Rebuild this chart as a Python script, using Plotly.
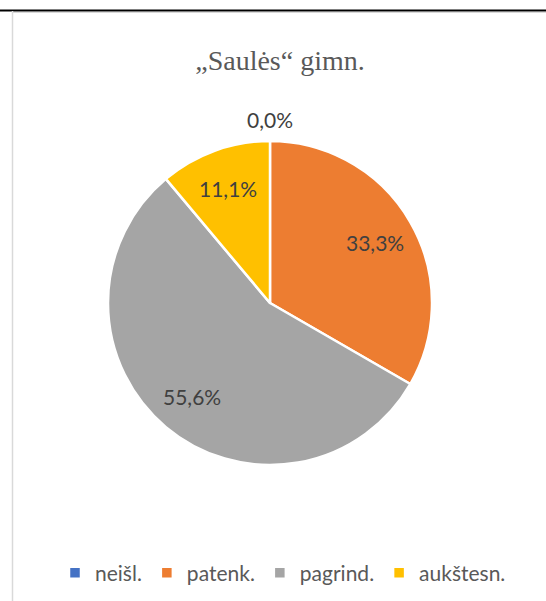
import math
import plotly.graph_objects as go

categories = ["neišl.", "patenk.", "pagrind.", "aukštesn."]
values = [0, 3, 5, 1]
colors = ["#4472C4", "#ED7D31", "#A5A5A5", "#FFC000"]
title_text = "„Saulės“ gimn."

W, H = 546, 601
cx, cy, r = 270, 303, 162
label_font = "Lato, Open Sans, sans-serif"

fig = go.Figure(go.Pie(
    labels=categories,
    values=values,
    sort=False,
    direction="clockwise",
    rotation=0,
    marker=dict(colors=colors, line=dict(color="white", width=2.5)),
    textinfo="none",
    hoverinfo="label+percent",
    showlegend=True,
    domain=dict(x=[(cx - r) / W, (cx + r) / W], y=[1 - (cy + r) / H, 1 - (cy - r) / H]),
))

# data labels placed along each slice's mid-angle (clockwise from 12 o'clock)
total = sum(values)
annotations = []
cum = 0.0
for lab, v in zip(categories, values):
    frac = v / total
    mid = (cum + frac / 2) * 2 * math.pi
    cum += frac
    rr = r + 22 if v == 0 else r * 0.75
    x = cx + rr * math.sin(mid)
    y = cy - rr * math.cos(mid)
    txt = f"{frac * 100:.1f}%".replace(".", ",")
    annotations.append(dict(
        text=txt, x=x / W, y=1 - y / H, xref="paper", yref="paper",
        xanchor="center", yanchor="middle", showarrow=False,
        font=dict(family=label_font, size=21, color="#404040"),
    ))

fig.update_layout(
    width=W, height=H,
    margin=dict(l=0, r=0, t=0, b=0),
    paper_bgcolor="white",
    title=dict(text=title_text, x=280 / W, xanchor="center", y=1 - 60 / H, yanchor="middle",
               font=dict(family="Liberation Serif, Times New Roman, serif", size=28, color="#595959")),
    legend=dict(orientation="h", x=283 / W, xanchor="center", y=1 - 573 / H, yanchor="middle",
                font=dict(family=label_font, size=21, color="#595959"),
                itemwidth=30, tracegroupgap=0),
    annotations=annotations,
    shapes=[
        dict(type="line", xref="paper", yref="paper", x0=0, x1=1, y0=1 - 10.5 / H, y1=1 - 10.5 / H,
             line=dict(color="black", width=2)),
        dict(type="line", xref="paper", yref="paper", x0=12.5 / W, x1=12.5 / W, y0=0, y1=1 - 11 / H,
             line=dict(color="#D9D9D9", width=1.5)),
        dict(type="line", xref="paper", yref="paper", x0=12 / W, x1=1, y0=1 - 12.5 / H, y1=1 - 12.5 / H,
             line=dict(color="#D9D9D9", width=1)),
    ],
)

fig.write_html("out.html", config={"displayModeBar": False},
               post_script="document.body.style.margin='0';")
